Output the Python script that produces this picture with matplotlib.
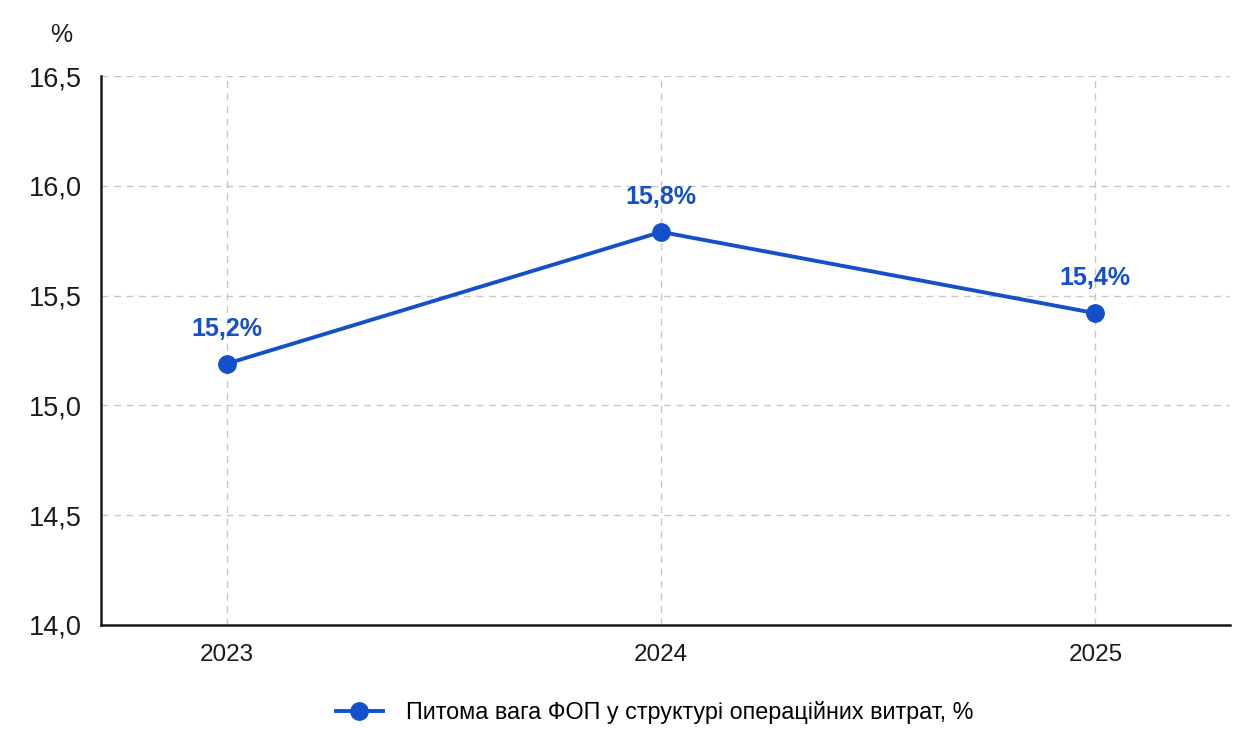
import matplotlib.pyplot as plt
from matplotlib.ticker import FuncFormatter

plt.rcParams['font.family'] = ['Liberation Sans', 'DejaVu Sans']

years = ['2023', '2024', '2025']
share = [15.19, 15.79, 15.42]
series_name = 'Питома вага ФОП у структурі операційних витрат, %'
y_ticks = [14.0, 14.5, 15.0, 15.5, 16.0, 16.5]

blue = '#1450CA'


def comma(v, pos=None):
    return f'{v:.1f}'.replace('.', ',')


fig = plt.figure(figsize=(12.57, 7.29), dpi=100)
ax = fig.add_axes([0.0803, 0.1427, 0.8982, 0.753])

x = list(range(len(years)))
ax.plot(x, share, color=blue, linewidth=2.8, marker='o', markersize=12.5,
        label=series_name, zorder=3)

# value labels above each point
for xi, v in zip(x, share):
    ax.annotate(comma(v) + '%', (xi, v), xytext=(0, 25), textcoords='offset points',
                ha='center', va='center', color=blue, fontsize=18, fontweight='bold')

ax.set_xlim(-0.29, 2.31)
ax.set_ylim(14.0, 16.5)
ax.set_xticks(x)
ax.set_xticklabels(years)
ax.set_yticks(y_ticks)
ax.yaxis.set_major_formatter(FuncFormatter(comma))

ax.grid(True, color='#c8c8c8', linestyle=(0, (5, 4)), linewidth=1.0)
ax.set_axisbelow(True)
for side in ('top', 'right'):
    ax.spines[side].set_visible(False)
for side in ('left', 'bottom'):
    ax.spines[side].set_color('#1a1a1a')
    ax.spines[side].set_linewidth(1.8)

ax.tick_params(axis='both', length=0, colors='#1a1a1a')
ax.tick_params(axis='y', labelsize=19.5, pad=14)
ax.tick_params(axis='x', labelsize=17.5, pad=14)

fig.text(0.049, 0.952, '%', fontsize=18, color='#1a1a1a', ha='center', va='center')

fig.legend(loc='center', bbox_to_anchor=(0.521, 0.022), frameon=False, fontsize=16.8,
           handlelength=2.0, handletextpad=1.0)

fig.savefig('out.png', dpi=100, facecolor='white')
